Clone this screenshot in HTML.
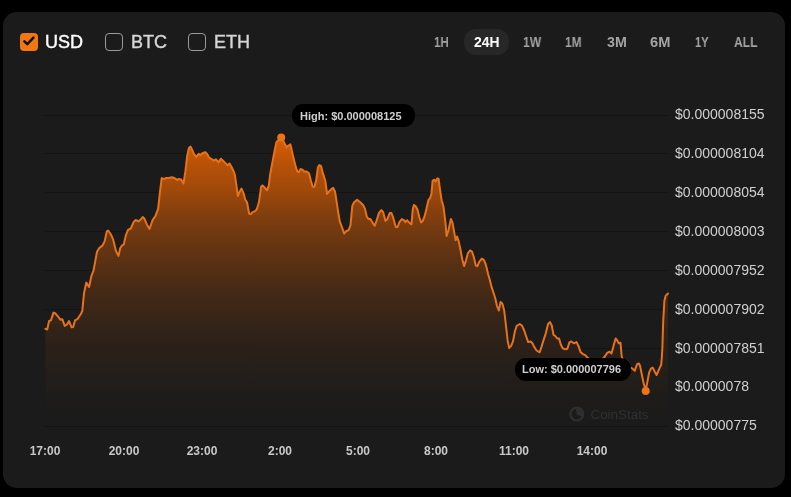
<!DOCTYPE html>
<html><head><meta charset="utf-8">
<style>
html,body{margin:0;padding:0;}
body{width:791px;height:497px;background:#000;position:relative;overflow:hidden;font-family:"Liberation Sans",sans-serif;}
.card{position:absolute;left:3px;top:12px;width:782px;height:476px;background:#1b1b1b;border-radius:14px;}
.abs{position:absolute;white-space:nowrap;will-change:transform;}
.cb{position:absolute;width:18px;height:18px;box-sizing:border-box;border-radius:4px;}
.cb.on{background:#f07712;}
.cb.off{border:1.5px solid #999;}
.cur{font-size:18px;color:#d6d6d6;line-height:18px;top:33px;-webkit-text-stroke:0.4px currentColor;}
.cur.on{color:#fff;}
.tf{font-size:14px;font-weight:bold;color:#a3a3a3;line-height:14px;top:35.1px;transform-origin:0 0;}
.pill{position:absolute;left:463.8px;top:29px;width:45.2px;height:25.8px;border-radius:12px;background:#272727;}
.yl{font-size:14px;color:#d0d0d0;line-height:14px;left:675px;}
.xl{font-size:12px;font-weight:bold;color:#c8c8c8;line-height:12px;top:445px;width:60px;text-align:center;}
.tip{position:absolute;background:#000;border-radius:11px;font-size:11px;font-weight:bold;color:#cfcfcf;line-height:11px;}
</style></head><body>
<div class="card"></div>
<svg class="abs" style="left:0;top:0" width="791" height="497" viewBox="0 0 791 497">
<defs>
<linearGradient id="g" x1="0" y1="137" x2="0" y2="425" gradientUnits="userSpaceOnUse">
<stop offset="0.0000" stop-color="#ee6400" stop-opacity="0.910"/>
<stop offset="0.0590" stop-color="#ee6400" stop-opacity="0.810"/>
<stop offset="0.1007" stop-color="#ee6400" stop-opacity="0.730"/>
<stop offset="0.1840" stop-color="#ee6400" stop-opacity="0.630"/>
<stop offset="0.2535" stop-color="#ee6400" stop-opacity="0.510"/>
<stop offset="0.3576" stop-color="#ee6400" stop-opacity="0.375"/>
<stop offset="0.5312" stop-color="#ee6400" stop-opacity="0.200"/>
<stop offset="0.7049" stop-color="#ee6400" stop-opacity="0.086"/>
<stop offset="0.8958" stop-color="#ee6400" stop-opacity="0.014"/>
<stop offset="1.0000" stop-color="#ee6400" stop-opacity="0.000"/>
</linearGradient>
</defs>
<g stroke="#141414" stroke-width="1">
<line x1="44.5" x2="668" y1="115.5" y2="115.5"/>
<line x1="44.5" x2="668" y1="153.5" y2="153.5"/>
<line x1="44.5" x2="668" y1="192.5" y2="192.5"/>
<line x1="44.5" x2="668" y1="231.5" y2="231.5"/>
<line x1="44.5" x2="668" y1="270.5" y2="270.5"/>
<line x1="44.5" x2="668" y1="309.5" y2="309.5"/>
<line x1="44.5" x2="668" y1="348.5" y2="348.5"/>
<line x1="44.5" x2="668" y1="387.5" y2="387.5"/>
<line x1="44.5" x2="668" y1="426.5" y2="426.5"/>
</g>
<path d="M45.4 328.9 L47.2 329.5 L49.1 321 L50.9 320.4 L53.5 312.6 L55.1 313.2 L58.7 317.4 L60.5 319.8 L62.3 319.2 L64.7 325.9 L66.8 324.7 L69 321 L71.6 327.3 L73.2 327.1 L75 320.4 L77.4 319.2 L81 313.8 L82.3 310.8 L84 293.3 L86.3 282.5 L89.2 286.9 L91.3 276.3 L93.5 270.7 L95.6 259.4 L97 251.7 L99.1 248.2 L102.6 245.4 L104.7 241.1 L106.8 231.3 L108.2 230.6 L111.1 234.8 L113.2 239.7 L116 251 L118.5 255.9 L120.2 248.2 L121.9 245.4 L123.7 244.6 L125.8 235.5 L128 229.9 L130.8 228.5 L133.6 222.1 L135.7 220 L138.5 221.4 L140.5 219.8 L142.7 217 L144.5 218.8 L147.2 225.2 L149.5 229 L152.7 219.8 L155.4 216.1 L158.1 208.9 L159.9 192.6 L161.7 178 L163.5 179 L166.3 178 L169 178 L171.7 177.2 L174.4 178 L177.1 179.9 L178.9 179 L181.1 179.5 L183.5 183.5 L185.4 171.4 L187.2 155.7 L189 147.8 L190.6 146.6 L192.1 149.7 L193.9 153.9 L196.3 156.9 L198.7 153.9 L200.5 155.1 L202.3 153.3 L205.3 152.1 L207.1 153.9 L209 157.5 L212 159.3 L213.8 160.5 L216 159.3 L218.6 162.3 L220.8 158.7 L222.8 160.5 L225.2 162.9 L227.7 165.3 L229.5 163.5 L231.3 166.5 L233.7 171.4 L234.9 175 L236.1 183.4 L237.9 196 L239.5 192 L241.5 188.6 L243.5 193.1 L245.2 199.5 L247 202.3 L249.1 213.5 L250.8 214.2 L252.6 212.1 L254.7 211.4 L256.8 209.3 L258.9 202.3 L261.1 186.8 L262.5 185.4 L264.6 187.5 L267.1 190.3 L268.8 185.4 L270.2 174.1 L272 164.5 L274.7 150.3 L276.5 141.9 L278.3 140.7 L281.1 137.5 L283.1 140.1 L284.9 144.3 L286.7 147.3 L288.5 145.5 L290.3 144.3 L291.5 149.1 L293.4 157.6 L295.2 164.8 L297.3 171.5 L298.8 172.1 L300.6 169 L302.4 169.6 L304.2 171.5 L306.6 171.5 L309 173.3 L310.9 180.7 L312.7 186.7 L314.5 186.7 L316.3 179.5 L317.9 167.4 L319.3 165 L321.1 166.2 L322.9 173.4 L325.3 180.7 L327.1 194 L329 191.5 L331.4 189.1 L333.2 187.9 L335 191.5 L336.2 198.8 L338 210.9 L339.8 221.7 L342.1 227.6 L344.2 233.6 L346.3 231.2 L348.7 230 L350.5 225.2 L352.3 205.9 L354.1 202.2 L357.1 199.8 L360.2 202.2 L363.2 205.3 L365 208.9 L366.8 216.7 L368.6 219.1 L370.4 219.1 L372.2 222.1 L374.6 225.8 L376.5 220.9 L378.9 213.1 L381.3 210.1 L383.1 211.9 L385.5 220.9 L387.3 219.1 L389.7 213.1 L391.5 213.1 L393.3 217.9 L395.8 227 L397.6 227 L399.4 222.1 L401.8 219.1 L404.2 220.3 L405.4 222.1 L407.2 220.3 L409.7 223.1 L411.5 224.3 L412.7 209.8 L413.9 205 L415.7 206.2 L417.5 209.8 L419.3 217.1 L421.1 222.5 L422.9 220.7 L424.7 215.9 L426.5 208.6 L428.4 200.2 L430.2 197.8 L431.4 194.1 L432.6 180.9 L434.4 179.7 L435.6 181.5 L437.4 178.4 L438.6 179 L439.8 188.1 L441.6 200.2 L443.4 206.2 L445.4 222.1 L446.6 236 L448.4 230.5 L450.9 219 L452.7 223.3 L454.5 234.1 L455.7 240.2 L457.1 236.5 L458.7 241.4 L460.5 249.8 L462.3 259.5 L464.1 266.1 L465.9 260.7 L467.8 253.4 L470.2 250.4 L472 251.6 L473.8 257.1 L475.8 265.5 L477.4 266.1 L479.2 261.9 L481.8 258.6 L483.8 259.8 L485.6 264 L486.8 268.5 L488.1 274.1 L489.9 280.2 L491.7 287.4 L493.5 292.8 L495.2 298 L497 306 L498.8 310.5 L500.6 302 L502.4 303.8 L504.2 310.5 L505.9 325.2 L507.7 340.9 L509.2 348.1 L511.3 345.7 L513.1 340.9 L514.9 331.2 L516.7 325.8 L519.7 324 L522.1 325.8 L524 330 L525.8 335.4 L528.2 342.1 L530.6 341.5 L532.4 343.3 L534.2 346.9 L536.6 350.5 L539.6 352.3 L541.5 346.9 L543.3 340.9 L545.7 333.6 L548.1 324 L549.9 322.1 L551.7 325.2 L553.5 334.8 L555.3 336 L557.1 338.4 L559 338.4 L560.8 344.5 L562.6 348.1 L565 349.3 L567.4 348.7 L569.4 342.4 L571.3 341.5 L574 343.3 L576.5 342.1 L578.3 345.7 L580.7 352.3 L583.1 354.1 L585.5 355.3 L587 357 L590 360 L595 362 L600 361 L603 358.5 L604.8 356.5 L607.2 352.9 L609.6 351.7 L611.5 353.5 L613.9 344.5 L615.7 338.4 L617.5 340.9 L618.7 343.3 L620.5 342.7 L621.7 356.5 L625 365 L629 367 L632.2 368.4 L634.7 370.8 L637.1 364.1 L638.9 363.5 L640.1 366 L641.9 375 L643.7 383.5 L645.7 390.5 L647.3 382.3 L649.1 372.6 L651 368.4 L652.8 367.8 L654.6 371.4 L656.6 375 L658.2 371.4 L660 367.2 L661.2 364.7 L661.8 358.1 L662.4 347.2 L663.2 321.2 L664.4 300.7 L665.6 295.9 L668 293.5 L668 426 L45.4 426 Z" fill="#1b1b1b"/>
<path d="M45.4 328.9 L47.2 329.5 L49.1 321 L50.9 320.4 L53.5 312.6 L55.1 313.2 L58.7 317.4 L60.5 319.8 L62.3 319.2 L64.7 325.9 L66.8 324.7 L69 321 L71.6 327.3 L73.2 327.1 L75 320.4 L77.4 319.2 L81 313.8 L82.3 310.8 L84 293.3 L86.3 282.5 L89.2 286.9 L91.3 276.3 L93.5 270.7 L95.6 259.4 L97 251.7 L99.1 248.2 L102.6 245.4 L104.7 241.1 L106.8 231.3 L108.2 230.6 L111.1 234.8 L113.2 239.7 L116 251 L118.5 255.9 L120.2 248.2 L121.9 245.4 L123.7 244.6 L125.8 235.5 L128 229.9 L130.8 228.5 L133.6 222.1 L135.7 220 L138.5 221.4 L140.5 219.8 L142.7 217 L144.5 218.8 L147.2 225.2 L149.5 229 L152.7 219.8 L155.4 216.1 L158.1 208.9 L159.9 192.6 L161.7 178 L163.5 179 L166.3 178 L169 178 L171.7 177.2 L174.4 178 L177.1 179.9 L178.9 179 L181.1 179.5 L183.5 183.5 L185.4 171.4 L187.2 155.7 L189 147.8 L190.6 146.6 L192.1 149.7 L193.9 153.9 L196.3 156.9 L198.7 153.9 L200.5 155.1 L202.3 153.3 L205.3 152.1 L207.1 153.9 L209 157.5 L212 159.3 L213.8 160.5 L216 159.3 L218.6 162.3 L220.8 158.7 L222.8 160.5 L225.2 162.9 L227.7 165.3 L229.5 163.5 L231.3 166.5 L233.7 171.4 L234.9 175 L236.1 183.4 L237.9 196 L239.5 192 L241.5 188.6 L243.5 193.1 L245.2 199.5 L247 202.3 L249.1 213.5 L250.8 214.2 L252.6 212.1 L254.7 211.4 L256.8 209.3 L258.9 202.3 L261.1 186.8 L262.5 185.4 L264.6 187.5 L267.1 190.3 L268.8 185.4 L270.2 174.1 L272 164.5 L274.7 150.3 L276.5 141.9 L278.3 140.7 L281.1 137.5 L283.1 140.1 L284.9 144.3 L286.7 147.3 L288.5 145.5 L290.3 144.3 L291.5 149.1 L293.4 157.6 L295.2 164.8 L297.3 171.5 L298.8 172.1 L300.6 169 L302.4 169.6 L304.2 171.5 L306.6 171.5 L309 173.3 L310.9 180.7 L312.7 186.7 L314.5 186.7 L316.3 179.5 L317.9 167.4 L319.3 165 L321.1 166.2 L322.9 173.4 L325.3 180.7 L327.1 194 L329 191.5 L331.4 189.1 L333.2 187.9 L335 191.5 L336.2 198.8 L338 210.9 L339.8 221.7 L342.1 227.6 L344.2 233.6 L346.3 231.2 L348.7 230 L350.5 225.2 L352.3 205.9 L354.1 202.2 L357.1 199.8 L360.2 202.2 L363.2 205.3 L365 208.9 L366.8 216.7 L368.6 219.1 L370.4 219.1 L372.2 222.1 L374.6 225.8 L376.5 220.9 L378.9 213.1 L381.3 210.1 L383.1 211.9 L385.5 220.9 L387.3 219.1 L389.7 213.1 L391.5 213.1 L393.3 217.9 L395.8 227 L397.6 227 L399.4 222.1 L401.8 219.1 L404.2 220.3 L405.4 222.1 L407.2 220.3 L409.7 223.1 L411.5 224.3 L412.7 209.8 L413.9 205 L415.7 206.2 L417.5 209.8 L419.3 217.1 L421.1 222.5 L422.9 220.7 L424.7 215.9 L426.5 208.6 L428.4 200.2 L430.2 197.8 L431.4 194.1 L432.6 180.9 L434.4 179.7 L435.6 181.5 L437.4 178.4 L438.6 179 L439.8 188.1 L441.6 200.2 L443.4 206.2 L445.4 222.1 L446.6 236 L448.4 230.5 L450.9 219 L452.7 223.3 L454.5 234.1 L455.7 240.2 L457.1 236.5 L458.7 241.4 L460.5 249.8 L462.3 259.5 L464.1 266.1 L465.9 260.7 L467.8 253.4 L470.2 250.4 L472 251.6 L473.8 257.1 L475.8 265.5 L477.4 266.1 L479.2 261.9 L481.8 258.6 L483.8 259.8 L485.6 264 L486.8 268.5 L488.1 274.1 L489.9 280.2 L491.7 287.4 L493.5 292.8 L495.2 298 L497 306 L498.8 310.5 L500.6 302 L502.4 303.8 L504.2 310.5 L505.9 325.2 L507.7 340.9 L509.2 348.1 L511.3 345.7 L513.1 340.9 L514.9 331.2 L516.7 325.8 L519.7 324 L522.1 325.8 L524 330 L525.8 335.4 L528.2 342.1 L530.6 341.5 L532.4 343.3 L534.2 346.9 L536.6 350.5 L539.6 352.3 L541.5 346.9 L543.3 340.9 L545.7 333.6 L548.1 324 L549.9 322.1 L551.7 325.2 L553.5 334.8 L555.3 336 L557.1 338.4 L559 338.4 L560.8 344.5 L562.6 348.1 L565 349.3 L567.4 348.7 L569.4 342.4 L571.3 341.5 L574 343.3 L576.5 342.1 L578.3 345.7 L580.7 352.3 L583.1 354.1 L585.5 355.3 L587 357 L590 360 L595 362 L600 361 L603 358.5 L604.8 356.5 L607.2 352.9 L609.6 351.7 L611.5 353.5 L613.9 344.5 L615.7 338.4 L617.5 340.9 L618.7 343.3 L620.5 342.7 L621.7 356.5 L625 365 L629 367 L632.2 368.4 L634.7 370.8 L637.1 364.1 L638.9 363.5 L640.1 366 L641.9 375 L643.7 383.5 L645.7 390.5 L647.3 382.3 L649.1 372.6 L651 368.4 L652.8 367.8 L654.6 371.4 L656.6 375 L658.2 371.4 L660 367.2 L661.2 364.7 L661.8 358.1 L662.4 347.2 L663.2 321.2 L664.4 300.7 L665.6 295.9 L668 293.5 L668 426 L45.4 426 Z" fill="url(#g)"/>
<path d="M45.4 328.9 L47.2 329.5 L49.1 321 L50.9 320.4 L53.5 312.6 L55.1 313.2 L58.7 317.4 L60.5 319.8 L62.3 319.2 L64.7 325.9 L66.8 324.7 L69 321 L71.6 327.3 L73.2 327.1 L75 320.4 L77.4 319.2 L81 313.8 L82.3 310.8 L84 293.3 L86.3 282.5 L89.2 286.9 L91.3 276.3 L93.5 270.7 L95.6 259.4 L97 251.7 L99.1 248.2 L102.6 245.4 L104.7 241.1 L106.8 231.3 L108.2 230.6 L111.1 234.8 L113.2 239.7 L116 251 L118.5 255.9 L120.2 248.2 L121.9 245.4 L123.7 244.6 L125.8 235.5 L128 229.9 L130.8 228.5 L133.6 222.1 L135.7 220 L138.5 221.4 L140.5 219.8 L142.7 217 L144.5 218.8 L147.2 225.2 L149.5 229 L152.7 219.8 L155.4 216.1 L158.1 208.9 L159.9 192.6 L161.7 178 L163.5 179 L166.3 178 L169 178 L171.7 177.2 L174.4 178 L177.1 179.9 L178.9 179 L181.1 179.5 L183.5 183.5 L185.4 171.4 L187.2 155.7 L189 147.8 L190.6 146.6 L192.1 149.7 L193.9 153.9 L196.3 156.9 L198.7 153.9 L200.5 155.1 L202.3 153.3 L205.3 152.1 L207.1 153.9 L209 157.5 L212 159.3 L213.8 160.5 L216 159.3 L218.6 162.3 L220.8 158.7 L222.8 160.5 L225.2 162.9 L227.7 165.3 L229.5 163.5 L231.3 166.5 L233.7 171.4 L234.9 175 L236.1 183.4 L237.9 196 L239.5 192 L241.5 188.6 L243.5 193.1 L245.2 199.5 L247 202.3 L249.1 213.5 L250.8 214.2 L252.6 212.1 L254.7 211.4 L256.8 209.3 L258.9 202.3 L261.1 186.8 L262.5 185.4 L264.6 187.5 L267.1 190.3 L268.8 185.4 L270.2 174.1 L272 164.5 L274.7 150.3 L276.5 141.9 L278.3 140.7 L281.1 137.5 L283.1 140.1 L284.9 144.3 L286.7 147.3 L288.5 145.5 L290.3 144.3 L291.5 149.1 L293.4 157.6 L295.2 164.8 L297.3 171.5 L298.8 172.1 L300.6 169 L302.4 169.6 L304.2 171.5 L306.6 171.5 L309 173.3 L310.9 180.7 L312.7 186.7 L314.5 186.7 L316.3 179.5 L317.9 167.4 L319.3 165 L321.1 166.2 L322.9 173.4 L325.3 180.7 L327.1 194 L329 191.5 L331.4 189.1 L333.2 187.9 L335 191.5 L336.2 198.8 L338 210.9 L339.8 221.7 L342.1 227.6 L344.2 233.6 L346.3 231.2 L348.7 230 L350.5 225.2 L352.3 205.9 L354.1 202.2 L357.1 199.8 L360.2 202.2 L363.2 205.3 L365 208.9 L366.8 216.7 L368.6 219.1 L370.4 219.1 L372.2 222.1 L374.6 225.8 L376.5 220.9 L378.9 213.1 L381.3 210.1 L383.1 211.9 L385.5 220.9 L387.3 219.1 L389.7 213.1 L391.5 213.1 L393.3 217.9 L395.8 227 L397.6 227 L399.4 222.1 L401.8 219.1 L404.2 220.3 L405.4 222.1 L407.2 220.3 L409.7 223.1 L411.5 224.3 L412.7 209.8 L413.9 205 L415.7 206.2 L417.5 209.8 L419.3 217.1 L421.1 222.5 L422.9 220.7 L424.7 215.9 L426.5 208.6 L428.4 200.2 L430.2 197.8 L431.4 194.1 L432.6 180.9 L434.4 179.7 L435.6 181.5 L437.4 178.4 L438.6 179 L439.8 188.1 L441.6 200.2 L443.4 206.2 L445.4 222.1 L446.6 236 L448.4 230.5 L450.9 219 L452.7 223.3 L454.5 234.1 L455.7 240.2 L457.1 236.5 L458.7 241.4 L460.5 249.8 L462.3 259.5 L464.1 266.1 L465.9 260.7 L467.8 253.4 L470.2 250.4 L472 251.6 L473.8 257.1 L475.8 265.5 L477.4 266.1 L479.2 261.9 L481.8 258.6 L483.8 259.8 L485.6 264 L486.8 268.5 L488.1 274.1 L489.9 280.2 L491.7 287.4 L493.5 292.8 L495.2 298 L497 306 L498.8 310.5 L500.6 302 L502.4 303.8 L504.2 310.5 L505.9 325.2 L507.7 340.9 L509.2 348.1 L511.3 345.7 L513.1 340.9 L514.9 331.2 L516.7 325.8 L519.7 324 L522.1 325.8 L524 330 L525.8 335.4 L528.2 342.1 L530.6 341.5 L532.4 343.3 L534.2 346.9 L536.6 350.5 L539.6 352.3 L541.5 346.9 L543.3 340.9 L545.7 333.6 L548.1 324 L549.9 322.1 L551.7 325.2 L553.5 334.8 L555.3 336 L557.1 338.4 L559 338.4 L560.8 344.5 L562.6 348.1 L565 349.3 L567.4 348.7 L569.4 342.4 L571.3 341.5 L574 343.3 L576.5 342.1 L578.3 345.7 L580.7 352.3 L583.1 354.1 L585.5 355.3 L587 357 L590 360 L595 362 L600 361 L603 358.5 L604.8 356.5 L607.2 352.9 L609.6 351.7 L611.5 353.5 L613.9 344.5 L615.7 338.4 L617.5 340.9 L618.7 343.3 L620.5 342.7 L621.7 356.5 L625 365 L629 367 L632.2 368.4 L634.7 370.8 L637.1 364.1 L638.9 363.5 L640.1 366 L641.9 375 L643.7 383.5 L645.7 390.5 L647.3 382.3 L649.1 372.6 L651 368.4 L652.8 367.8 L654.6 371.4 L656.6 375 L658.2 371.4 L660 367.2 L661.2 364.7 L661.8 358.1 L662.4 347.2 L663.2 321.2 L664.4 300.7 L665.6 295.9 L668 293.5" fill="none" stroke="#e6721c" stroke-width="2" stroke-linejoin="round" stroke-linecap="round"/>
<circle cx="281.2" cy="137.6" r="4" fill="#ee7316"/>
<circle cx="645.7" cy="391" r="4" fill="#ee7316"/>
<g fill="#2f2f2f">
<circle cx="576.8" cy="414.1" r="6.4" fill="none" stroke="#2f2f2f" stroke-width="2.2"/>
<path d="M576.6 414.3 L576 408.8 A5.5 5.5 0 0 1 581.8 416.8 Z"/>
</g>
<text x="590.5" y="418.8" font-family="Liberation Sans" font-size="13.4" fill="#303030">CoinStats</text>
</svg>

<div class="cb on" style="left:20px;top:33px"></div>
<svg class="abs" style="left:20px;top:33px" width="18" height="18" viewBox="0 0 18 18"><path d="M4.4 8.4 L7.3 11.1 L13.5 4.6" fill="none" stroke="#111" stroke-width="2.5" stroke-linecap="round" stroke-linejoin="round"/></svg>
<div class="abs cur on" style="left:45px">USD</div>
<div class="cb off" style="left:105px;top:33px"></div>
<div class="abs cur" style="left:131px">BTC</div>
<div class="cb off" style="left:188px;top:33px"></div>
<div class="abs cur" style="left:214px">ETH</div>

<div class="pill"></div>
<div class="abs tf" style="left:433.80px;transform:scaleX(0.827)">1H</div>
<div class="abs tf" style="left:473.80px;transform:scaleX(0.993);color:#fff">24H</div>
<div class="abs tf" style="left:523.30px;transform:scaleX(0.867)">1W</div>
<div class="abs tf" style="left:564.90px;transform:scaleX(0.854)">1M</div>
<div class="abs tf" style="left:606.80px;transform:scaleX(1.018)">3M</div>
<div class="abs tf" style="left:650.30px;transform:scaleX(1.044)">6M</div>
<div class="abs tf" style="left:695.40px;transform:scaleX(0.794)">1Y</div>
<div class="abs tf" style="left:733.70px;transform:scaleX(0.864)">ALL</div>

<div class="abs yl" style="top:107.0px">$0.000008155</div>
<div class="abs yl" style="top:146.0px">$0.000008104</div>
<div class="abs yl" style="top:185.0px">$0.000008054</div>
<div class="abs yl" style="top:224.0px">$0.000008003</div>
<div class="abs yl" style="top:263.0px">$0.000007952</div>
<div class="abs yl" style="top:302.0px">$0.000007902</div>
<div class="abs yl" style="top:341.0px">$0.000007851</div>
<div class="abs yl" style="top:379.2px">$0.0000078</div>
<div class="abs yl" style="top:417.7px">$0.00000775</div>
<div class="abs xl" style="left:15.4px">17:00</div>
<div class="abs xl" style="left:93.5px">20:00</div>
<div class="abs xl" style="left:171.6px">23:00</div>
<div class="abs xl" style="left:249.8px">2:00</div>
<div class="abs xl" style="left:327.9px">5:00</div>
<div class="abs xl" style="left:406.1px">8:00</div>
<div class="abs xl" style="left:484.2px">11:00</div>
<div class="abs xl" style="left:562.3px">14:00</div>

<div class="tip" style="left:292px;top:104px;width:123px;height:23px;"><span class="abs" style="left:8px;top:6.6px">High: $0.000008125</span></div>
<div class="tip" style="left:515px;top:357.5px;width:116px;height:23px;"><span class="abs" style="left:7px;top:6.4px">Low: $0.000007796</span></div>
</body></html>
